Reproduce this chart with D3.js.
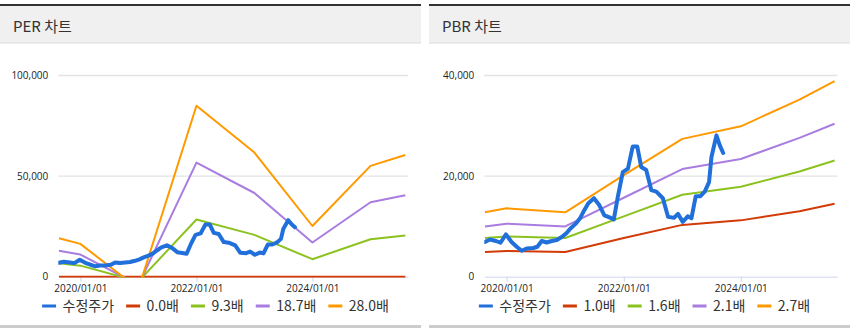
<!DOCTYPE html>
<html><head><meta charset="utf-8">
<script src="https://cdn.jsdelivr.net/npm/d3@7"></script>
<style>
body{margin:0;background:#fff}
svg{display:block}
</style>
</head><body>
<svg id="chart" width="851" height="332"></svg>
<script>
// ---------- DATA ----------
const priceName = '수정주가';
const priceDates = ['2019-08-19','2019-09-19','2019-10-27','2019-11-24','2019-12-28','2020-02-01','2020-03-04','2020-04-04','2020-05-05','2020-06-16','2020-07-11','2020-08-07','2020-09-07','2020-10-09','2020-11-09','2020-12-10','2021-01-07','2021-02-03','2021-03-09','2021-04-03','2021-04-24','2021-05-25','2021-06-29','2021-08-02','2021-09-02','2021-10-04','2021-10-31','2021-11-25','2021-12-26','2022-01-27','2022-02-26','2022-03-26','2022-04-20','2022-05-21','2022-06-22','2022-07-23','2022-09-02','2022-10-04','2022-11-10','2022-12-05','2023-01-04','2023-02-04','2023-02-27','2023-03-26','2023-04-24','2023-05-21','2023-06-17','2023-07-02','2023-08-02','2023-08-23','2023-09-13'];
const priceValues = [6900,7400,7100,6750,8400,6900,5950,5150,5600,5700,5950,7100,6800,7100,7300,7900,8600,9600,10600,11600,12900,14600,15600,14200,12200,11800,11400,15900,20800,21500,25900,25900,21800,21200,17200,16900,15600,11900,11700,12500,10900,12000,11600,16000,16000,16900,18800,23800,28100,26100,24600];

const bandDates = ['2019-08-19','2020-01-01','2021-01-01','2022-01-01','2023-01-01','2024-01-01','2025-01-01','2025-08-08'];

const perBandNames = ['0.0배','9.3배','18.7배','28.0배'];
const perBand00 = [0,0,0,0,0,0,0,0];
const perBand93 = [6700,5500,-2300,28400,20800,8700,18600,20500];
const perBand187 = [12900,11000,-4000,56700,41600,17000,37000,40500];
const perBand280 = [19100,16300,-6000,85000,61700,25200,55100,60500];

const pbrBandNames = ['1.0배','1.6배','2.1배','2.7배'];
const pbrBand10 = [4900,5100,4900,7700,10300,11200,13000,14500];
const pbrBand16 = [7700,8000,7700,12000,16300,17900,20900,23100];
const pbrBand21 = [10000,10550,10000,15700,21400,23400,27600,30400];
const pbrBand27 = [12800,13600,12800,20200,27400,29900,35200,38900];

const perTitle = 'PER 차트';
const pbrTitle = 'PBR 차트';
const perYTicks = [0,50000,100000];
const pbrYTicks = [0,20000,40000];
const xTickDates = ['2020-01-01','2022-01-01','2024-01-01'];
const xDomainDates = ['2019-08-15','2025-08-25'];

const seriesColors = ['#216fdb','#d23a06','#8cc21f','#a97de0','#ff9900'];

// ---------- DRAW ----------
const parse = d3.timeParse('%Y-%m-%d');
const fmtX = d3.timeFormat('%Y/%m/%d');
const fmtY = d3.format(',');
const svg = d3.select('#chart');

function panel(cfg){
  const g = svg.append('g');
  const px = cfg.x, pw = cfg.w;
  // frame
  g.append('rect').attr('x',px).attr('y',4).attr('width',pw).attr('height',2).attr('fill','#333');
  g.append('rect').attr('x',px).attr('y',6).attr('width',pw).attr('height',37).attr('fill','#f0f0f0');
  g.append('rect').attr('x',px).attr('y',42.5).attr('width',pw).attr('height',1).attr('fill','#dcdcdc');
  g.append('rect').attr('x',px).attr('y',325).attr('width',pw).attr('height',3).attr('fill','#cccccc');
  g.append('text').attr('x',px+13).attr('y',32).text(cfg.title)
    .attr('font-family','"Noto Sans CJK KR", sans-serif').attr('font-size',15).attr('fill','#333');

  const x = d3.scaleTime().domain(xDomainDates.map(parse)).range([cfg.left, cfg.right]);
  const y = d3.scaleLinear().domain([0, d3.max(cfg.yTicks)]).range([276.7, 75.5]);

  // grid
  g.selectAll('.grid').data(cfg.yTicks.filter(v=>v>0)).join('line')
    .attr('x1',cfg.left).attr('x2',cfg.right).attr('y1',d=>y(d)).attr('y2',d=>y(d))
    .attr('stroke','#e3e3e3').attr('stroke-width',1.3);
  // y labels
  g.selectAll('.yl').data(cfg.yTicks).join('text')
    .attr('x',cfg.left-10).attr('y',d=>y(d)+3.6).attr('text-anchor','end')
    .attr('font-family','"Open Sans", sans-serif').attr('font-size',10).attr('fill','#222')
    .text(d=>fmtY(d));
  // x axis
  const xa = d3.axisBottom(x).tickValues(xTickDates.map(parse)).tickFormat(fmtX).tickSizeInner(5).tickSizeOuter(0).tickPadding(3);
  const ax = g.append('g').attr('transform','translate(0,276.7)').call(xa);
  ax.select('.domain').attr('stroke','#ccd6eb');
  ax.selectAll('.tick line').attr('stroke','#ccd6eb');
  ax.selectAll('.tick text').attr('font-family','"Open Sans", sans-serif').attr('font-size',10).attr('fill','#222');

  // clip
  const cid = 'clip'+cfg.id;
  svg.append('clipPath').attr('id',cid).append('rect')
    .attr('x',cfg.left).attr('y',60).attr('width',cfg.right-cfg.left).attr('height',277.8-60);
  const lg = g.append('g').attr('clip-path','url(#'+cid+')');
  const line = d3.line().x(d=>x(d[0])).y(d=>y(d[1]));
  const bd = bandDates.map(parse);
  cfg.bands.forEach((vals,i)=>{
    lg.append('path').datum(bd.map((d,j)=>[d,vals[j]])).attr('d',line)
      .attr('fill','none').attr('stroke',seriesColors[i+1]).attr('stroke-width',2)
      .attr('stroke-linejoin','round');
  });
  const pd = priceDates.map(parse);
  lg.append('path').datum(pd.map((d,j)=>[d,priceValues[j]])).attr('d',line)
    .attr('fill','none').attr('stroke',seriesColors[0]).attr('stroke-width',4)
    .attr('stroke-linejoin','round').attr('stroke-linecap','round');

  // legend
  const names = [priceName].concat(cfg.names);
  const leg = g.append('g');
  let cx = 0;
  names.forEach((n,i)=>{
    const it = leg.append('g').attr('transform','translate('+cx+',0)');
    it.append('line').attr('x1',0).attr('x2',14).attr('y1',306).attr('y2',306)
      .attr('stroke',seriesColors[i]).attr('stroke-width',3);
    const t = it.append('text').attr('x',20.5).attr('y',311).text(n)
      .attr('font-family','"Noto Sans CJK KR", sans-serif').attr('font-size',14).attr('fill','#333');
    cx += 20.5 + t.node().getComputedTextLength() + 12;
  });
  const total = cx - 12;
  leg.attr('transform','translate('+(px+pw/2+5-total/2)+',0)');
}

panel({id:'per', x:0, w:421, title:perTitle, left:58.3, right:408, yTicks:perYTicks,
  bands:[perBand00,perBand93,perBand187,perBand280], names:perBandNames});
panel({id:'pbr', x:429, w:421, title:pbrTitle, left:484.3, right:837.3, yTicks:pbrYTicks,
  bands:[pbrBand10,pbrBand16,pbrBand21,pbrBand27], names:pbrBandNames});
</script>
</body></html>
